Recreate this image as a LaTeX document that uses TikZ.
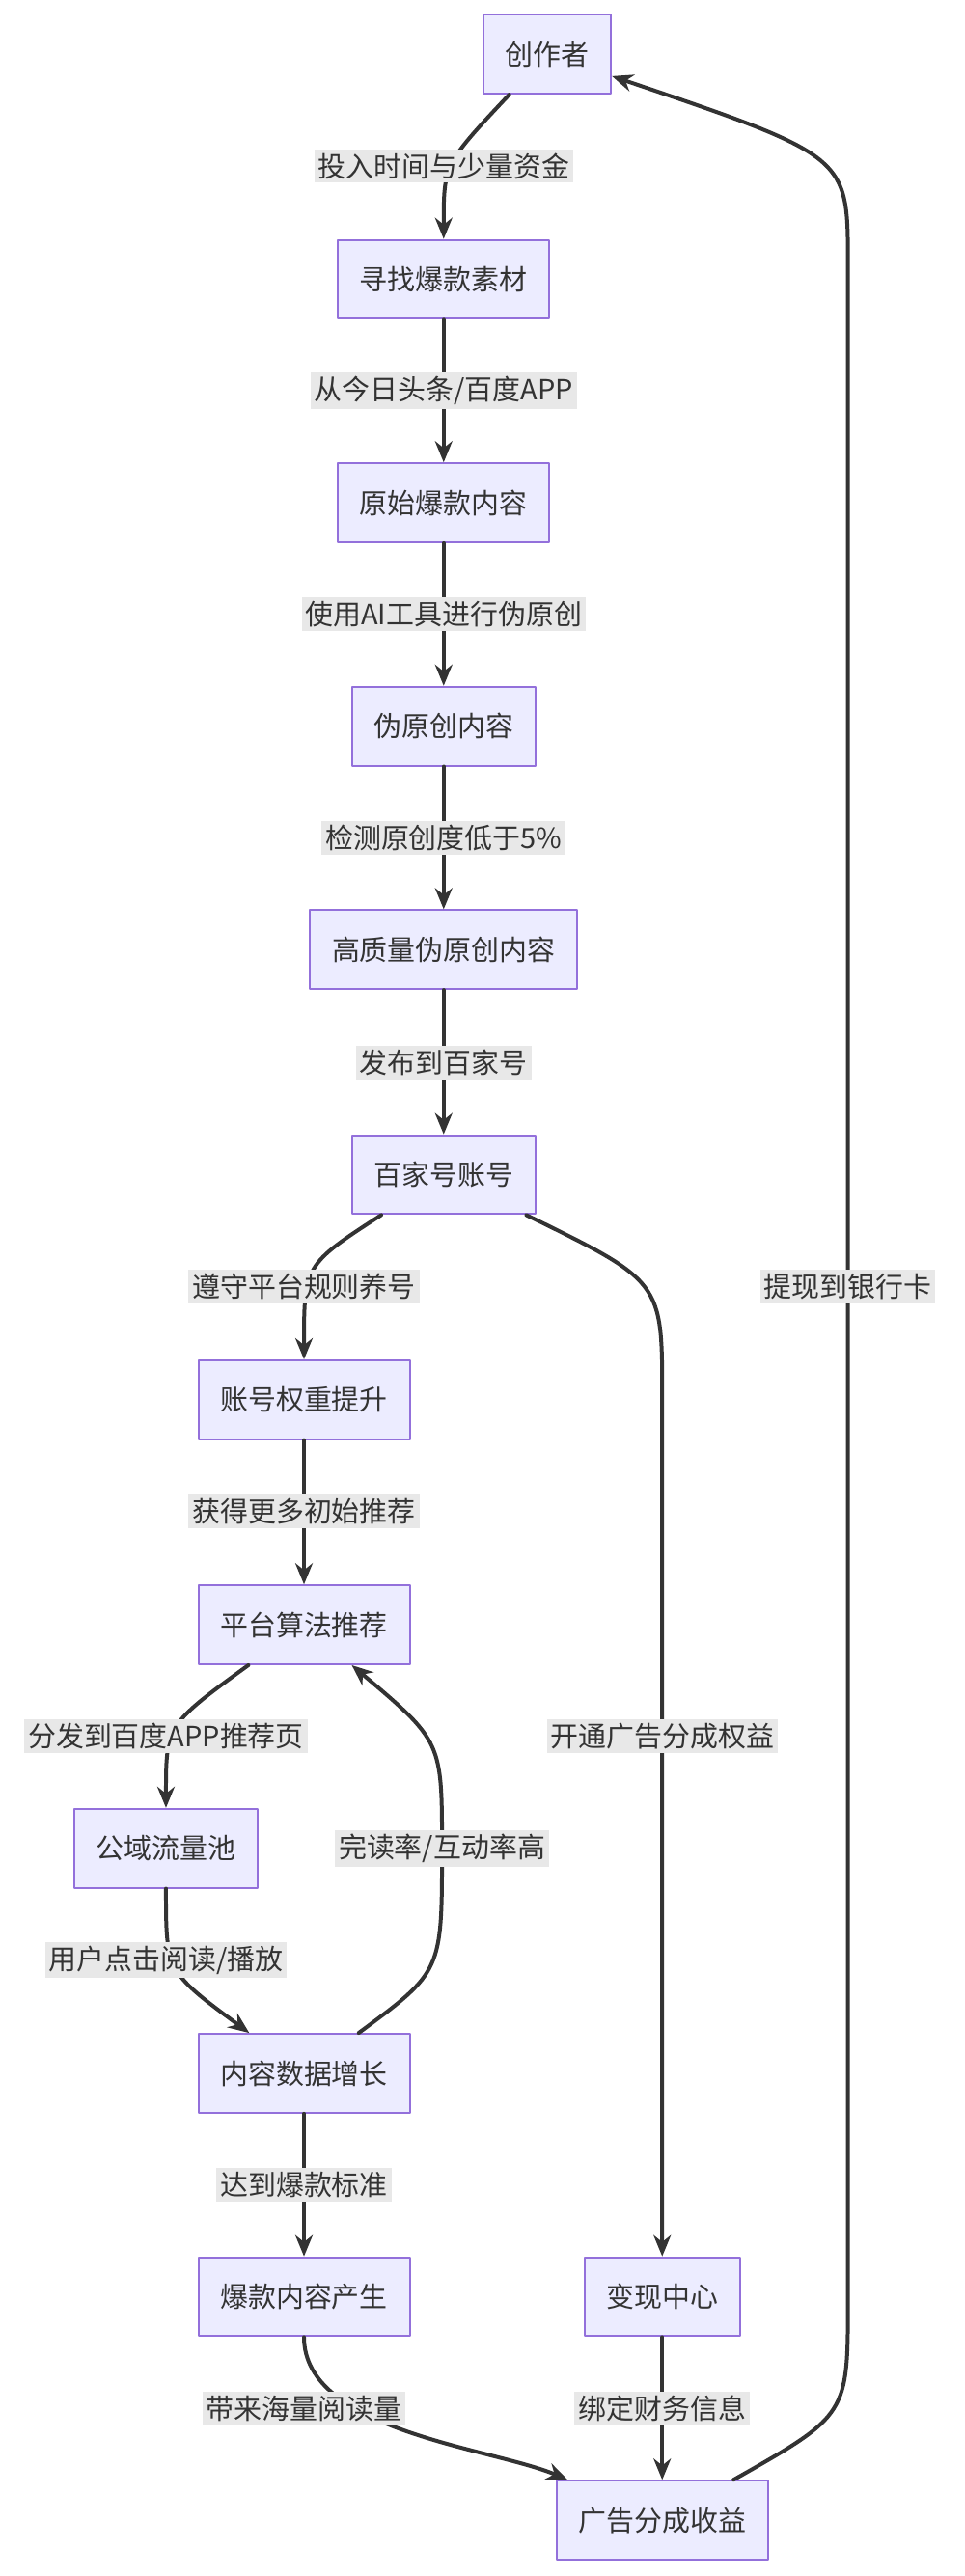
\documentclass[tikz,border=0pt]{standalone}
\usepackage{fontspec}
\setmainfont{Noto Sans CJK SC}
\usetikzlibrary{arrows.meta}
\definecolor{boxfill}{HTML}{ECECFF}
\definecolor{boxline}{HTML}{9370DB}
\definecolor{edge}{HTML}{333333}
\definecolor{labbg}{HTML}{E8E8E8}
\tikzset{
  stage/.style={draw=boxline, fill=boxfill, line width=1pt, minimum height=1.44cm, inner xsep=0.4cm, font=\fontsize{14.5}{16}\selectfont, text=edge},
  flow/.style={draw=edge, line width=2pt, -{Stealth[length=11pt,width=9pt]}},
  lab/.style={fill=labbg, inner sep=2pt, font=\fontsize{14.5}{16}\selectfont, text=edge}
}
\begin{document}
\begin{tikzpicture}[x=0.03cm, y=-0.03cm, line cap=round, line join=round]
  \useasboundingbox (0,0) rectangle (587,1568);
  % Main column
  \node [stage] (cz) at (333,33) {创作者};
  \node [stage] (xz) at (270,170) {寻找爆款素材};
  \node [stage] (ys) at (270,306) {原始爆款内容};
  \node [stage] (wy) at (270,442) {伪原创内容};
  \node [stage] (gz) at (270,578) {高质量伪原创内容};
  \node [stage] (bjh) at (270,715) {百家号账号};
  \node [stage] (zq) at (185,852) {账号权重提升};
  \node [stage] (pt) at (185,989) {平台算法推荐};
  \node [stage] (gy) at (101,1125) {公域流量池};
  \node [stage] (nr) at (185,1262) {内容数据增长};
  \node [stage] (bk) at (185,1398) {爆款内容产生};
  % Right column
  \node [stage] (bx) at (403,1398) {变现中心};
  \node [stage] (gg) at (403,1534) {广告分成收益};
  % Connectors
  \draw [flow] (cz) .. controls (270,100) .. (xz);
  \draw [flow] (xz) -- (ys);
  \draw [flow] (ys) -- (wy);
  \draw [flow] (wy) -- (gz);
  \draw [flow] (gz) -- (bjh);
  \draw [flow] (bjh) .. controls (185,770) .. (zq);
  \draw [flow] (zq) -- (pt);
  \draw [flow] (pt) .. controls (101,1050) .. (gy);
  \draw [flow] (gy) .. controls (101,1200) .. (nr);
  \draw [flow] (nr) .. controls (269,1200) .. (269,1125) .. controls (269,1060) .. (pt);
  \draw [flow] (nr) -- (bk);
  \draw [flow] (bk) .. controls (185,1480) and (300,1490) .. (gg);
  \draw [flow] (bjh) .. controls (403,780) .. (403,850) -- (bx);
  \draw [flow] (bx) -- (gg);
  \draw [flow] (gg) .. controls (516,1470) .. (516,1400) -- (516,160) .. controls (516,95) .. (cz);
  % Edge labels
  \node [lab] (l1) at (270,101) {投入时间与少量资金};
  \node [lab] (l2) at (270,238) {从今日头条/百度APP};
  \node [lab] (l3) at (270,374) {使用AI工具进行伪原创};
  \node [lab] (l4) at (270,510) {检测原创度低于5\%};
  \node [lab] (l5) at (270,647) {发布到百家号};
  \node [lab] (l6) at (185,783) {遵守平台规则养号};
  \node [lab] (l7) at (185,920) {获得更多初始推荐};
  \node [lab] (l8) at (101,1057) {分发到百度APP推荐页};
  \node [lab] (l9) at (269,1125) {完读率/互动率高};
  \node [lab] (l10) at (101,1193) {用户点击阅读/播放};
  \node [lab] (l11) at (185,1330) {达到爆款标准};
  \node [lab] (l12) at (185,1466) {带来海量阅读量};
  \node [lab] (l13) at (403,1466) {绑定财务信息};
  \node [lab] (l14) at (403,1057) {开通广告分成权益};
  \node [lab] (l15) at (516,783) {提现到银行卡};
\end{tikzpicture}
\end{document}
